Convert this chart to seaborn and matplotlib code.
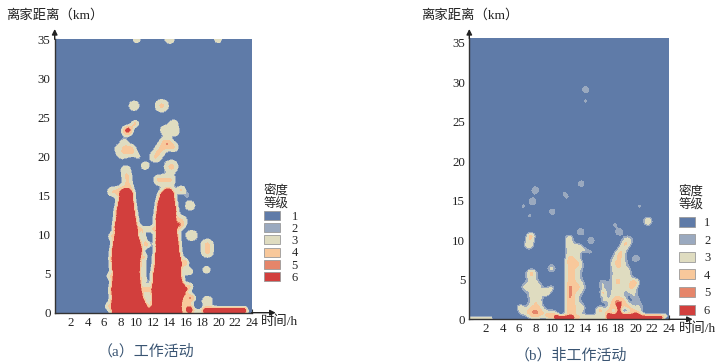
import numpy as np
import matplotlib
matplotlib.use("Agg")
import matplotlib.pyplot as plt
from matplotlib.colors import ListedColormap
from matplotlib.patches import Patch
from matplotlib.ticker import FixedLocator
import seaborn as sns

sns.set_theme(style="white")
plt.rcParams["font.family"] = ["Liberation Serif", "Noto Sans CJK SC"]
plt.rcParams["axes.unicode_minus"] = False

COLORS = ["#5f7ba8", "#9aa9bf", "#dfdcc0", "#f8c89b", "#e5856a", "#d23f3d"]
GRADES = ["1", "2", "3", "4", "5", "6"]
THRESH_A = [1.0, 1.25, 3.0, 5.5, 6.5]
THRESH_B = [1.0, 1.6, 3.0, 5.5, 6.5]
HOUR_TICKS = list(range(2, 25, 2))
KM_TICKS = list(range(0, 36, 5))
KM_MINOR = list(range(0, 36))
RES = 0.04

# panel (a): core columns  (km, left hour, right hour)
A_COL1 = [(0, 7.1, 11.5), (1, 7.0, 11.0), (2, 7.1, 10.6), (3, 7.0, 10.4), (4, 7.2, 10.3), (5, 7.3, 10.2),
          (6, 7.1, 10.25), (7, 7.05, 10.3), (8, 7.15, 10.5), (9, 7.3, 10.3), (10, 7.5, 10.0), (11, 7.45, 9.9),
          (12, 7.65, 9.75), (13, 7.7, 9.6), (14, 7.9, 9.45), (15, 8.1, 9.3), (15.5, 8.4, 9.1)]
A_COL2 = [(0, 11.5, 15.4), (1, 12.0, 15.3), (2, 12.0, 15.5), (3, 11.95, 16.0), (4, 12.1, 15.4), (5, 12.15, 15.2),
          (6, 12.3, 15.3), (7, 12.35, 15.2), (8, 12.5, 15.0), (9, 12.45, 14.95), (10, 12.5, 14.8), (11, 12.55, 14.75),
          (12, 12.45, 14.6), (13, 12.6, 14.65), (14, 12.7, 14.5), (15, 13.0, 14.35), (15.6, 13.5, 14.1)]
# hotspots: x1, y1, x2, y2, strength, radius
A_SPOTS = [
    (10.0, 35, 10.0, 35, 2.4, .4), (14.0, 35, 14.0, 35, 2.6, .46), (19.9, 35, 19.9, 35, 2.4, .4),
    (9.67, 26.5, 9.67, 26.5, 2.5, .52), (13.05, 26.5, 13.05, 26.5, 3.4, .58),
    (8.85, 23.3, 8.85, 23.3, 7.5, .4), (9.8, 24.2, 9.8, 24.2, 2.0, .4), (9.0, 23.5, 9.8, 24.2, 1.5, .23),
    (7.9, 21, 9.3, 20.9, 2.0, .52), (8.2, 20.2, 8.8, 20.4, 2.0, .46), (8.45, 21.9, 8.6, 21.4, 1.5, .4),
    (9.3, 20.9, 10.15, 20.0, 1.5, .34), (11.0, 18.8, 11.0, 18.8, 2.5, .4),
    (13.45, 23.4, 14.6, 23.2, 2.5, .48), (14.5, 24.2, 14.5, 24.2, 2.3, .44),
    (12.3, 20, 13.45, 21.7, 3.4, .52), (13.9, 21.5, 14.5, 21.2, 3.1, .44),
    (14.2, 18.7, 14.2, 18.7, 3.6, .58), (12.7, 17, 14, 17, 3.4, .48),
    (15.5, 15.9, 16.1, 15.1, 1.2, .44), (15.4, 15.7, 15.4, 15.7, 2.0, .29), (16.5, 13.7, 16.5, 13.7, 2.5, .48),
    (8.65, 18.3, 8.65, 18.3, 2.4, .48), (8.9, 16, 8.8, 17.3, 3.2, .44), (7.0, 15.5, 8, 15.6, 3.0, .44),
    (15.45, 11.7, 15.45, 11.7, 3.0, .52), (15.2, 11.2, 15.2, 11.2, 3.4, .34), (16.7, 9.9, 16.7, 9.9, 2.8, .52),
    (18.6, 8.7, 18.6, 7.8, 3.5, .52), (18.5, 5.5, 18.5, 5.5, 2.3, .4), (18.6, 1.5, 18.6, 1.5, 2.5, .52),
    (18.5, .25, 23, .25, 12, .3), (10.4, 10.7, 12, 10.7, 2.4, .3), (11, 7.3, 11, 7.3, 1.2, .25),
    (11.2, 8.7, 11.2, 8.7, 2.2, .3), (10.8, 10.2, 11.2, 8.7, 1.8, .2), (10.9, 7, 10.9, 4.2, 1.5, .22),
    (11.2, 3, 11.2, 3, 2.5, .4), (16.3, 0, 16.3, 2, 3.5, .4), (16.4, .4, 16.4, .4, 6, .3),
    (15.85, 6.4, 15.85, 6.4, 3.5, .35), (16.4, 5.3, 16.4, 5.3, 2.5, .35), (16.45, 3.4, 16.45, 3.4, 2.6, .3),
    (16.7, 1.9, 16.7, 1.9, 3.0, .3), (16.5, .2, 18, .2, 1.8, .25),
    (6.9, 9.8, 6.9, 9.8, 2.0, .3), (6.7, 4.7, 6.7, 4.7, 2.0, .3), (6.5, .8, 6.5, .8, 1.8, .3),
]
# panel (b): hotspots
B_SPOTS = [
    (14, 28.6, 14, 28.6, 1.5, .45), (14, 27.2, 14, 27.2, 1.3, .26), (13.45, 16.9, 13.45, 16.9, 1.5, .45),
    (11.5, 15.6, 11.7, 15.3, 1.4, .32), (7.95, 16.1, 7.95, 16.1, 1.55, .48), (7.6, 14.65, 7.6, 14.65, 1.55, .48),
    (6.5, 14.1, 6.5, 14.1, 1.3, .26), (7.3, 12.9, 7.3, 12.9, 1.3, .26), (10, 13.4, 10, 13.4, 1.5, .42),
    (20.5, 14.1, 20.5, 14.1, 1.3, .26), (21.5, 12.2, 21.5, 12.2, 2.5, .42), (17.5, 11.8, 17.5, 11.8, 1.3, .26),
    (18, 10.9, 18, 10.9, 1.55, .48), (13.4, 10.9, 13.4, 10.9, 1.55, .48), (14.65, 9.8, 14.65, 9.8, 1.55, .45),
    (19.2, 9.9, 19.2, 9.9, 1.55, .48), (20.1, 7.6, 20.1, 7.6, 1.55, .45), (9.9, 6.35, 9.9, 6.35, 1.8, .45),
    (7.4, 10.3, 7.2, 9.3, 2.9, .42), (7.4, 10.3, 7.4, 10.3, 1.0, .2), (18.15, 8.2, 18.75, 9.3, 2.7, .45),
    (12.1, .2, 12.1, 7, 3.2, .45), (12.1, 2.8, 12.2, 4, 2.2, .2), (12, 10, 12.1, 7.8, 2.3, .4),
    (12.7, 1, 13, 6.5, 1.7, .6), (13, 7, 13, 9, 1.8, .45), (13.5, 8.8, 14.5, 8.4, 1.4, .28),
    (13.3, 4, 13.3, 4, 1.6, .55), (13.5, 1.4, 13.5, 1.4, 1.5, .45),
    (7.5, 5.7, 7.5, 5.7, 1.5, .35), (7.5, 5.5, 7.9, 1, 2.0, .6), (8.3, .8, 8.3, 4, 1.3, .5),
    (9.3, 3.4, 9.3, 3.4, 2.5, .38), (9.9, 3.9, 9.9, 3.9, 1.5, .35), (7.7, .7, 7.7, .7, 1.6, .5),
    (6.5, 1, 10, .7, 1.9, .45), (6.1, 1.5, 6.1, 1.5, 1.4, .35), (6.7, 4, 6.7, 4, 1.4, .4),
    (18, 7, 17.8, 2.5, 2.5, .75), (17.75, 7, 17.75, 7, 1.0, .5), (17.85, 4.7, 17.85, 4.7, 1.0, .3),
    (16, 4.5, 16.2, 2.5, 1.5, .42), (16.1, 3.3, 16.1, 3.3, 1.6, .2), (20, 4.6, 20, 4.6, 2.6, .4),
    (19.5, 4, 20.5, 1.5, 1.5, .45), (19, 6, 19.5, 4, 1.4, .45),
    (16.8, .15, 23, .15, 8, .22), (16.8, .5, 20, .5, 6, .25), (18, .3, 18, 1.7, 7, .25),
    (16.7, .9, 17.6, 2.2, 3, .35), (18.4, 2.2, 20.3, .6, 3, .35), (20.3, .4, 23.5, .4, 2.4, .28),
    (0, .1, 2.5, .1, 2.6, .22), (10.5, .2, 12.3, .2, 7.5, .22), (9.5, .4, 10.5, .4, 2.5, .28),
    (13, .2, 16, .2, 2.5, .32), (15.7, 1.1, 15.7, 1.1, 3.2, .38),
]


def capsule_field(spots, xx, yy):
    z = np.zeros_like(xx)
    for x1, y1, x2, y2, amp, s in spots:
        dx, dy = x2 - x1, y2 - y1
        den = dx * dx + dy * dy
        t = np.zeros_like(xx) if den == 0 else np.clip(((xx - x1) * dx + (yy - y1) * dy) / den, 0, 1)
        d2 = (xx - x1 - t * dx) ** 2 + (yy - y1 - t * dy) ** 2
        z += amp * np.exp(-d2 / (2 * s * s))
    return z


def grades(spots, thresh):
    xs = (np.arange(int(round(24 / RES))) + .5) * RES
    ys = (np.arange(int(round(35 / RES))) + .5) * RES
    xx, yy = np.meshgrid(xs, ys)
    return np.digitize(capsule_field(spots, xx, yy), thresh)


def rows_to_spots(rows):
    spots = []
    for i, (k, l, r) in enumerate(rows):
        spots.append((l + .12, k, r - .12, k, 9.0, .2))
        spots.append((l + .12, k, r - .12, k, 2.2, .5))
        if i + 1 < len(rows):
            k2, l2, r2 = rows[i + 1]
            spots.append(((l + l2) / 2 + .12, (k + k2) / 2, (r + r2) / 2 - .12, (k + k2) / 2, 9.0, .2))
    return spots


fig = plt.figure(figsize=(7.23, 3.64), dpi=100, facecolor="white")
W, H = 723, 364


def panel(box, spots, thresh, ylab_x, xlab_x, cap, cap_xy, leg_anchor, leg_kw, km_scale):
    x0, x1, ytop, ybot = box
    ax = fig.add_axes([x0 / W, 1 - ybot / H, (x1 - x0) / W, (ybot - ytop) / H])
    sns.heatmap(grades(spots, thresh), cmap=ListedColormap(COLORS), vmin=-.5, vmax=5.5, cbar=False, ax=ax,
                xticklabels=False, yticklabels=False)
    ax.invert_yaxis()
    ax.set_xlim(0, 24 / RES)
    ax.set_ylim(0, 35 / RES)
    for s in ("top", "right"):
        ax.spines[s].set_visible(False)
    for s in ("left", "bottom"):
        ax.spines[s].set_visible(True)
        ax.spines[s].set_color("#333333")
        ax.spines[s].set_linewidth(1.0)
    ax.set_xticks(np.array(HOUR_TICKS) / RES)
    ax.set_xticklabels([str(v) for v in HOUR_TICKS], rotation=0)
    ax.xaxis.set_minor_locator(FixedLocator(np.arange(0, 25) / RES))
    ax.set_yticks(np.array(KM_TICKS) * km_scale / RES)
    ax.set_yticklabels([str(v) for v in KM_TICKS], rotation=0)
    ax.yaxis.set_minor_locator(FixedLocator(np.array(KM_MINOR) * km_scale / RES))
    ax.tick_params(axis="both", which="major", direction="in", length=3, width=.8, color="#333333",
                   labelsize=9.3, labelcolor="#222222", pad=3,
                   bottom=True, left=True, labelbottom=True, labelleft=True)
    ax.tick_params(axis="both", which="minor", direction="in", length=1.6, width=.7, color="#333333",
                   bottom=True, left=True)
    ax.annotate("", xy=(0, (ybot - 29) / (ybot - ytop)), xytext=(0, 1), xycoords="axes fraction",
                arrowprops=dict(arrowstyle="-|>", color="#222222", lw=1, shrinkA=0, shrinkB=0,
                                mutation_scale=8), annotation_clip=False)
    ax.annotate("", xy=(1 + 24 / (x1 - x0), 0), xytext=(1, 0), xycoords="axes fraction",
                arrowprops=dict(arrowstyle="-|>", color="#222222", lw=1, shrinkA=0, shrinkB=0,
                                mutation_scale=8), annotation_clip=False)
    fig.text(ylab_x / W, 1 - 15 / H, "离家距离（km）", ha="center", va="center", fontsize=9.6, color="#222222")
    fig.text(xlab_x / W, 1 - (ybot + 9) / H, "时间/h", ha="left", va="center", fontsize=9.6, color="#222222")
    fig.text(cap_xy[0] / W, 1 - cap_xy[1] / H, cap, ha="center", va="center", fontsize=10.8, color="#3a5573")
    handles = [Patch(facecolor=c, edgecolor="#9a9a9a", linewidth=.6, label=g) for c, g in zip(COLORS, GRADES)]
    leg = ax.legend(handles=handles, title="密度\n等级", loc="upper left", frameon=False, fontsize=9,
                    title_fontsize=9, bbox_to_anchor=(leg_anchor[0] / W, 1 - leg_anchor[1] / H),
                    bbox_transform=fig.transFigure, borderpad=0, borderaxespad=0, **leg_kw)
    leg._legend_box.align = "left"
    return ax


panel((54.7, 251.7, 39.3, 312.7), rows_to_spots(A_COL1) + rows_to_spots(A_COL2) + A_SPOTS, THRESH_A,
      55, 261, "（a）工作活动", (146, 351), (264, 184),
      dict(handlelength=1.25, handleheight=.75, labelspacing=.02, handletextpad=.95), 1.0)
panel((469.3, 668.7, 38.3, 319.3), B_SPOTS, THRESH_B,
      470, 679, "（b）非工作活动", (571, 355), (679, 185),
      dict(handlelength=1.25, handleheight=.85, labelspacing=.42, handletextpad=.75), .985)

fig.savefig("out.png", dpi=100)
